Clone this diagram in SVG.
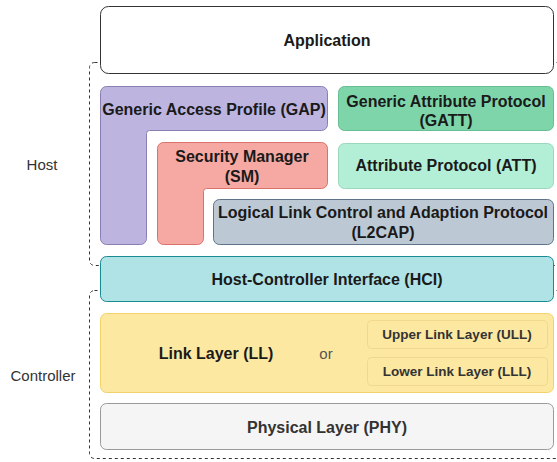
<svg xmlns="http://www.w3.org/2000/svg" width="557" height="462" viewBox="0 0 557 462">
  <style>
    text { font-family: "Liberation Sans", Arial, sans-serif; text-anchor: middle; dominant-baseline: central; fill: #1a1a1a; }
    .b { font-weight: bold; font-size: 16px; }
    .r { font-size: 15px; fill: #333; }
    .s { font-weight: bold; font-size: 13.5px; fill: #333; }
    .frame { fill: none; stroke: #333; stroke-width: 1; stroke-dasharray: 3 3; }
  </style>

  <!-- dashed group frames (right sides run past the canvas) -->
  <g id="frames">
    <rect class="frame" x="89.5" y="62.5" width="475" height="203" rx="5"/>
    <rect class="frame" x="89.5" y="290.5" width="475" height="168" rx="5"/>
  </g>

  <g id="label-host"><text class="r" x="42" y="164">Host</text></g>
  <g id="label-controller"><text class="r" x="43" y="375">Controller</text></g>

  <g id="application">
    <rect x="100.5" y="6.5" width="453" height="67" rx="8" fill="#fff" stroke="#333"/>
    <text class="b" x="327" y="40">Application</text>
  </g>

  <g id="gap">
    <path d="M106.5,86.5 H321.5 A6,6 0 0 1 327.5,92.5 V124.5 A6,6 0 0 1 321.5,130.5 H149.5 A3,3 0 0 0 146.5,133.5 V238.5 A6,6 0 0 1 140.5,244.5 H106.5 A6,6 0 0 1 100.5,238.5 V92.5 A6,6 0 0 1 106.5,86.5 Z" fill="#bdb4e0" stroke="#8a7fb5"/>
    <text class="b" x="214" y="109">Generic Access Profile (GAP)</text>
  </g>

  <g id="gatt">
    <rect x="338.5" y="86.5" width="215" height="44" rx="6" fill="#7fd5aa" stroke="#67be93"/>
    <text class="b" x="446" y="101">Generic Attribute Protocol</text>
    <text class="b" x="446" y="120">(GATT)</text>
  </g>

  <g id="sm">
    <path d="M163.5,142.5 H321.5 A6,6 0 0 1 327.5,148.5 V182.5 A6,6 0 0 1 321.5,188.5 H206.5 A3,3 0 0 0 203.5,191.5 V238.5 A6,6 0 0 1 197.5,244.5 H163.5 A6,6 0 0 1 157.5,238.5 V148.5 A6,6 0 0 1 163.5,142.5 Z" fill="#f6a9a2" stroke="#d9726b"/>
    <text class="b" x="242" y="156">Security Manager</text>
    <text class="b" x="242" y="176">(SM)</text>
  </g>

  <g id="att">
    <rect x="338.5" y="143.5" width="215" height="45" rx="6" fill="#b3eed6" stroke="#9ad8bc"/>
    <text class="b" x="446" y="165">Attribute Protocol (ATT)</text>
  </g>

  <g id="l2cap">
    <rect x="213.5" y="199.5" width="340" height="45" rx="6" fill="#bcc9d4" stroke="#5f7489"/>
    <text class="b" x="383" y="212">Logical Link Control and Adaption Protocol</text>
    <text class="b" x="383" y="232">(L2CAP)</text>
  </g>

  <g id="hci">
    <rect x="100.5" y="256.5" width="453" height="45" rx="6" fill="#b0e3e6" stroke="#1a8a92"/>
    <text class="b" x="327" y="279">Host-Controller Interface (HCI)</text>
  </g>

  <g id="ll">
    <rect x="100.5" y="313.5" width="453" height="79" rx="6" fill="#fde8a2" stroke="#f3d26e"/>
    <text class="b" x="216" y="353">Link Layer (LL)</text>
    <text class="r" x="326" y="353" style="fill:#555">or</text>
  </g>

  <g id="ull">
    <rect x="367.5" y="320.5" width="180" height="28" rx="4" fill="#fde8a2" stroke="#f0d98f"/>
    <text class="s" x="457" y="334">Upper Link Layer (ULL)</text>
  </g>

  <g id="lll">
    <rect x="367.5" y="357.5" width="180" height="28" rx="4" fill="#fde8a2" stroke="#f0d98f"/>
    <text class="s" x="457" y="371">Lower Link Layer (LLL)</text>
  </g>

  <g id="phy">
    <rect x="100.5" y="403.5" width="453" height="46" rx="6" fill="#f5f5f5" stroke="#9a9a9a"/>
    <text class="b" x="327" y="427" style="fill:#333">Physical Layer (PHY)</text>
  </g>
</svg>
